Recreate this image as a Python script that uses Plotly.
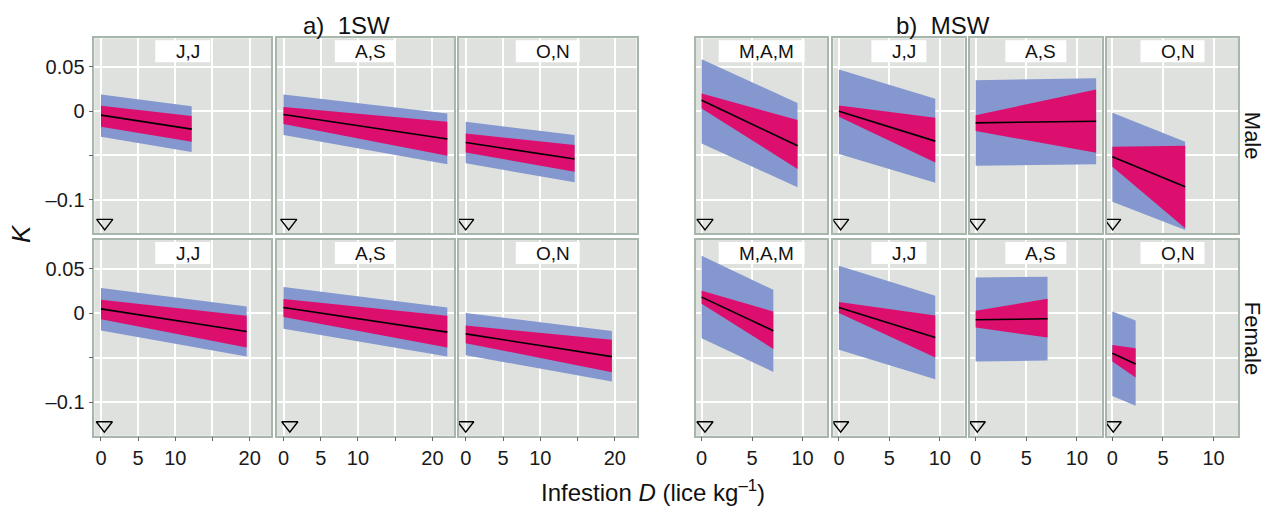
import plotly.graph_objects as go

W, H = 1264, 506

# ---------------- data ----------------
labels_1sw = ["J,J", "A,S", "O,N"]
labels_msw = ["M,A,M", "J,J", "A,S", "O,N"]
row_names = ["Male", "Female"]

# maximum infestation D (lice kg-1) per panel
dmax_1sw_male = [12.2, 22.0, 14.6]
dmax_1sw_female = [19.6, 22.0, 19.6]
dmax_msw_male = [9.5, 9.55, 11.9, 7.2]
dmax_msw_female = [7.1, 9.55, 7.1, 2.3]

# K values at D = 0 and D = max: [start, end]
fit_1sw_male = [[-0.0045, -0.0203], [-0.0037, -0.0315], [-0.0353, -0.054]]
ci_lo_1sw_male = [[-0.0177, -0.0346], [-0.0146, -0.0503], [-0.0465, -0.0683]]
ci_hi_1sw_male = [[0.006, -0.0056], [0.0048, -0.012], [-0.0251, -0.0383]]
pi_lo_1sw_male = [[-0.0289, -0.0462], [-0.027, -0.060], [-0.0589, -0.0803]]
pi_hi_1sw_male = [[0.0188, 0.0056], [0.0188, -0.0026], [-0.012, -0.027]]

fit_1sw_female = [[0.0048, -0.0207], [0.0063, -0.0214], [-0.0233, -0.0489]]
ci_lo_1sw_female = [[-0.0068, -0.0387], [-0.0045, -0.0387], [-0.0338, -0.0664]]
ci_hi_1sw_female = [[0.015, -0.003], [0.0158, -0.003], [-0.014, -0.030]]
pi_lo_1sw_female = [[-0.0196, -0.0489], [-0.0177, -0.0489], [-0.0473, -0.077]]
pi_hi_1sw_female = [[0.0282, 0.0074], [0.0293, 0.0063], [0.0, -0.020]]

fit_msw_male = [[0.0124, -0.0391], [0.0, -0.0338], [-0.0132, -0.0113], [-0.0514, -0.0852]]
ci_lo_msw_male = [[0.003, -0.0653], [-0.0064, -0.0578], [-0.0225, -0.047], [-0.0627, -0.132]]
ci_hi_msw_male = [[0.0199, -0.0101], [0.0064, -0.0075], [-0.0045, 0.0244], [-0.0402, -0.039]]
pi_lo_msw_male = [[-0.0364, -0.0859], [-0.0484, -0.0807], [-0.0616, -0.060], [-0.1021, -0.134]]
pi_hi_msw_male = [[0.0586, 0.0093], [0.047, 0.0139], [0.0349, 0.0372], [-0.0019, -0.0345]]

fit_msw_female = [[0.018, -0.0199], [0.0063, -0.0275], [-0.0075, -0.0064], [-0.045, -0.0571]]
ci_lo_msw_female = [[0.0105, -0.0402], [0.0, -0.050], [-0.0162, -0.0275], [-0.0545, -0.0725]]
ci_hi_msw_female = [[0.0251, 0.0018], [0.0124, -0.0027], [0.0026, 0.0161], [-0.0357, -0.0394]]
pi_lo_msw_female = [[-0.0282, -0.0661], [-0.0413, -0.0743], [-0.0545, -0.0534], [-0.0931, -0.104]]
pi_hi_msw_female = [[0.0645, 0.0262], [0.0533, 0.0195], [0.0401, 0.0409], [0.0018, -0.0083]]

# triangle markers (D position) at the foot of each panel
tri_1sw_male = [0.5, 0.7, 0.0]
tri_1sw_female = [0.45, 0.85, 0.0]
tri_msw_male = [0.33, 0.17, 0.16, 0.03]
tri_msw_female = [0.33, 0.17, 0.16, 0.09]
tri_K = -0.126

y_tickvals = [0.05, 0, -0.1]
y_ticktext = ["0.05", "0", "\u20130.1"]
y_minor_tickvals = [-0.05]
x_tickvals_1sw = [0, 5, 10, 20]
x_ticktext_1sw = ["0", "5", "10", "20"]
x_minor_tickvals_1sw = [15]
x_tickvals_msw = [0, 5, 10]
x_ticktext_msw = ["0", "5", "10"]

# ---------------- style / layout ----------------
FONT = "Liberation Sans, Arial, Helvetica, sans-serif"
BLUE = "#8497cf"
PINK = "#dd0f6e"
PANEL_BG = "#dee1de"
BORDER = "#a8b6ab"

cols_1sw_px = [(94.3, 271.2), (276.8, 454.0), (459.0, 636.5)]
cols_msw_px = [(696.0, 827.3), (833.3, 964.5), (970.0, 1101.7), (1106.7, 1238.3)]
rows_px = [(38.3, 233.3), (240.0, 435.7)]
xrange_1sw = [-0.9, 22.9]
xrange_msw = [-0.56, 12.45]
yrange = [-0.1378, 0.0822]
strip_w = {"J,J": 55, "A,S": 61, "O,N": 64, "M,A,M": 86}

fig = go.Figure()
layout = {}
shapes = []
annotations = []

panels = []
data_1sw = [
    (dmax_1sw_male, fit_1sw_male, ci_lo_1sw_male, ci_hi_1sw_male, pi_lo_1sw_male, pi_hi_1sw_male, tri_1sw_male),
    (dmax_1sw_female, fit_1sw_female, ci_lo_1sw_female, ci_hi_1sw_female, pi_lo_1sw_female, pi_hi_1sw_female, tri_1sw_female),
]
data_msw = [
    (dmax_msw_male, fit_msw_male, ci_lo_msw_male, ci_hi_msw_male, pi_lo_msw_male, pi_hi_msw_male, tri_msw_male),
    (dmax_msw_female, fit_msw_female, ci_lo_msw_female, ci_hi_msw_female, pi_lo_msw_female, pi_hi_msw_female, tri_msw_female),
]
for r in range(2):
    for c in range(3):
        panels.append(("1sw", r, c, labels_1sw[c], cols_1sw_px[c], [d[c] for d in data_1sw[r]]))
    for c in range(4):
        panels.append(("msw", r, c, labels_msw[c], cols_msw_px[c], [d[c] for d in data_msw[r]]))

for i, (grp, r, c, lab, (xl, xr), vals) in enumerate(panels, start=1):
    dmax, fit, cil, cih, pil, pih, tri = vals
    xa = "x" if i == 1 else f"x{i}"
    ya = "y" if i == 1 else f"y{i}"
    yt, yb = rows_px[r]
    bottom = r == 1
    first = grp == "1sw" and c == 0
    xminor = dict(tickvals=x_minor_tickvals_1sw if grp == "1sw" else [],
                  ticks="outside" if bottom else "", ticklen=4, tickcolor="#666", tickwidth=1,
                  showgrid=True, gridcolor="white", gridwidth=1.8)
    yminor = dict(tickvals=y_minor_tickvals,
                  ticks="outside" if first else "", ticklen=4, tickcolor="#666", tickwidth=1,
                  showgrid=True, gridcolor="white", gridwidth=1.8)
    layout["xaxis" if i == 1 else f"xaxis{i}"] = dict(
        domain=[xl / W, xr / W], anchor=ya,
        range=xrange_1sw if grp == "1sw" else xrange_msw,
        tickvals=x_tickvals_1sw if grp == "1sw" else x_tickvals_msw,
        ticktext=x_ticktext_1sw if grp == "1sw" else x_ticktext_msw,
        minor=xminor,
        showgrid=True, gridcolor="white", gridwidth=1.8, zeroline=False,
        showline=True, mirror=True, linecolor=BORDER, linewidth=1.5,
        ticks="outside" if bottom else "", ticklen=4, tickcolor="#666", tickwidth=1,
        showticklabels=bottom,
        tickfont=dict(family=FONT, size=20, color="#1a1a1a"),
    )
    layout["yaxis" if i == 1 else f"yaxis{i}"] = dict(
        domain=[1 - yb / H, 1 - yt / H], anchor=xa,
        range=yrange, tickvals=y_tickvals, ticktext=y_ticktext,
        minor=yminor,
        showgrid=True, gridcolor="white", gridwidth=1.8, zeroline=False,
        showline=True, mirror=True, linecolor=BORDER, linewidth=1.5,
        ticks="outside" if first else "", ticklen=4, tickcolor="#666", tickwidth=1,
        showticklabels=first,
        tickfont=dict(family=FONT, size=20, color="#1a1a1a"),
    )
    xs = [0, dmax]
    fig.add_trace(go.Scatter(
        x=xs + xs[::-1], y=[pil[0], pil[1], pih[1], pih[0]], fill="toself",
        fillcolor=BLUE, line=dict(width=0), mode="lines", xaxis=xa, yaxis=ya,
        showlegend=False, hoverinfo="skip"))
    fig.add_trace(go.Scatter(
        x=xs + xs[::-1], y=[cil[0], cil[1], cih[1], cih[0]], fill="toself",
        fillcolor=PINK, line=dict(width=0), mode="lines", xaxis=xa, yaxis=ya,
        showlegend=False, hoverinfo="skip"))
    fig.add_trace(go.Scatter(
        x=xs, y=fit, mode="lines", line=dict(color="black", width=1.6),
        xaxis=xa, yaxis=ya, showlegend=False, hoverinfo="skip"))
    fig.add_trace(go.Scatter(
        x=[tri], y=[tri_K], mode="markers",
        marker=dict(symbol="triangle-down-open", size=14, color="black", line=dict(width=1.4)),
        xaxis=xa, yaxis=ya, showlegend=False, hoverinfo="skip"))

    # strip label
    cx = (xl + xr) / 2
    w = strip_w[lab]
    shapes.append(dict(type="rect", xref="paper", yref="paper",
                       x0=(cx - w / 2) / W, x1=(cx + w / 2) / W,
                       y0=1 - (yt + 24) / H, y1=1 - (yt + 2) / H,
                       fillcolor="white", line=dict(width=0), layer="above"))
    annotations.append(dict(text=lab, xref="paper", yref="paper",
                            x=(cx + 5) / W, y=1 - (yt + 13.5) / H,
                            xanchor="center", yanchor="middle", showarrow=False,
                            font=dict(family=FONT, size=19, color="#111")))

# group titles
annotations.append(dict(text="a)\u00a0 1SW", xref="paper", yref="paper", x=301 / W, y=1 - 25 / H,
                        xanchor="left", yanchor="middle", showarrow=False,
                        font=dict(family=FONT, size=24, color="#111")))
annotations.append(dict(text="b)\u00a0 MSW", xref="paper", yref="paper", x=894 / W, y=1 - 25 / H,
                        xanchor="left", yanchor="middle", showarrow=False,
                        font=dict(family=FONT, size=24, color="#111")))
# row labels
for r, name in enumerate(row_names):
    yt, yb = rows_px[r]
    annotations.append(dict(text=name, xref="paper", yref="paper", x=1252 / W, y=1 - (yt + yb) / 2 / H,
                            xanchor="center", yanchor="middle", textangle=90, showarrow=False,
                            font=dict(family=FONT, size=22, color="#111")))
# axis titles
annotations.append(dict(text="<i>K</i>", xref="paper", yref="paper", x=21 / W, y=1 - 233 / H,
                        xanchor="center", yanchor="middle", textangle=-90, showarrow=False,
                        font=dict(family=FONT, size=26, color="#111")))
annotations.append(dict(text="Infestion <i>D</i> (lice kg<sup>\u20131</sup>)", xref="paper", yref="paper",
                        x=653 / W, y=1 - 491 / H, xanchor="center", yanchor="middle", showarrow=False,
                        font=dict(family=FONT, size=24, color="#111")))

fig.update_layout(
    width=W, height=H, margin=dict(l=0, r=0, t=0, b=0),
    paper_bgcolor="white", plot_bgcolor=PANEL_BG,
    shapes=shapes, annotations=annotations, showlegend=False,
    **layout,
)
fig.write_html("out.html")
